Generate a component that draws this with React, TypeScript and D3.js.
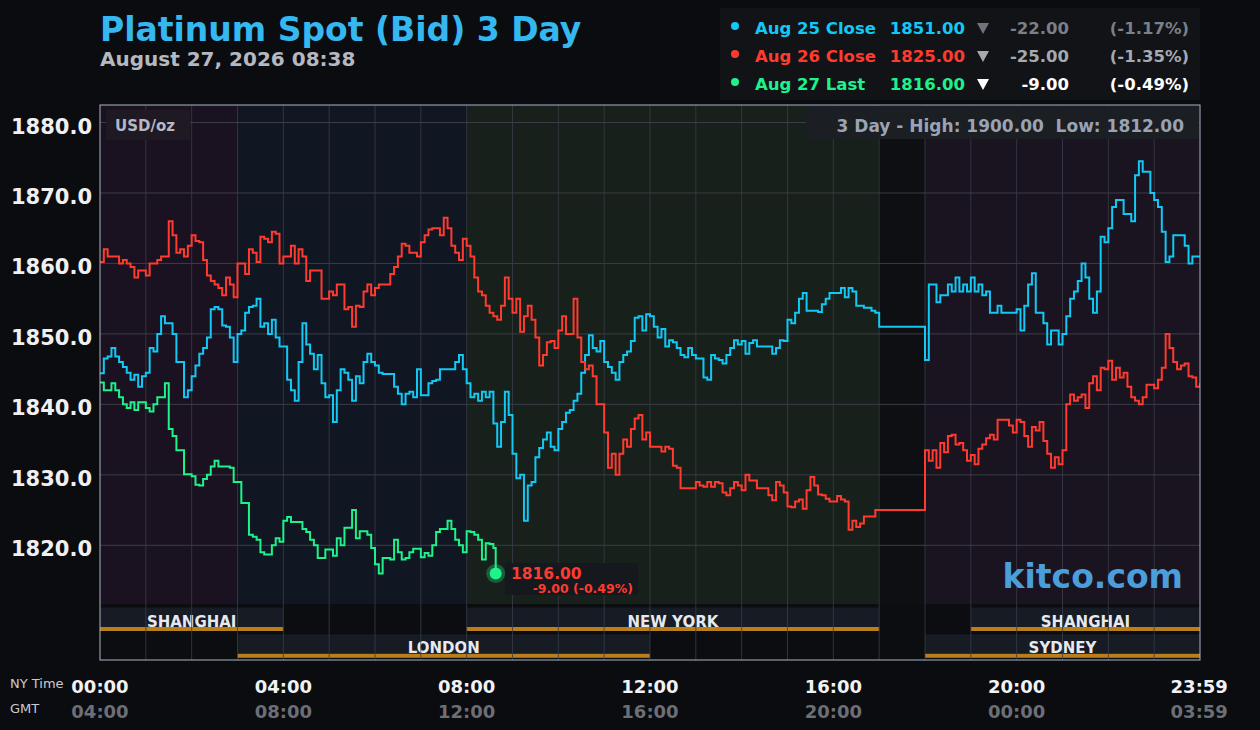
import * as d3 from "d3"

// ---- data (5-minute steps, NY time, starting 00:00) ----
const STEP_MIN = 5

const AUG25_CLOSE = [
  // 00:00 - 08:00
  1844.4, 1846.5, 1846.8, 1848, 1846.8, 1846, 1845.3, 1844.5, 1843.5, 1844.2,
  1842.5, 1844, 1844.5, 1848, 1847.5, 1850, 1852.5, 1851.5, 1851.5, 1850,
  1846, 1846, 1841, 1842, 1844, 1845.5, 1847.2, 1848, 1849.5, 1853.5,
  1853.8, 1853.5, 1851.2, 1851, 1849.5, 1846, 1850, 1850.5, 1853, 1853.8,
  1854, 1855, 1851, 1851.5, 1850, 1852, 1849.5, 1848.2, 1848.2, 1843.5,
  1842, 1840.5, 1846, 1851.5, 1848.5, 1847.2, 1845, 1847, 1843, 1841,
  1841.3, 1837.5, 1842, 1845, 1844.5, 1843.5, 1840.5, 1844, 1843, 1846,
  1847.2, 1846, 1845.5, 1844.5, 1844.3, 1844.3, 1844.3, 1842.5, 1841.5, 1840,
  1841.5, 1841.8, 1841, 1845, 1841.3, 1841.3, 1843, 1843.3, 1843.5, 1845,
  1845, 1845, 1845, 1846, 1847, 1845, 1843,
  // 08:05 - 17:00
  1841, 1841.5, 1840.5, 1841.8, 1841, 1841.8, 1837.3, 1834, 1837.5, 1841.8,
  1838.5, 1833, 1829.5, 1830, 1823.5, 1828.5, 1829, 1832.5, 1833.8, 1835,
  1836, 1834, 1833.5, 1836.5, 1837.5, 1838.8, 1839.2, 1840.5, 1841.5, 1844.5,
  1847, 1849.8, 1848, 1847.5, 1849, 1846, 1845.3, 1844.5, 1843.5, 1846,
  1847, 1847.5, 1849, 1852.3, 1852.5, 1850.5, 1852.8, 1852.5, 1851, 1849.5,
  1850.7, 1848.2, 1849.1, 1848.8, 1848, 1847, 1846.7, 1848, 1847, 1846.5,
  1846.5, 1843.8, 1843.5, 1847, 1846.5, 1846.3, 1845.8, 1847, 1848, 1849.1,
  1848.5, 1849, 1847.2, 1848.7, 1849.1, 1848.2, 1848.2, 1848.2, 1848.2, 1847.2,
  1848, 1849.1, 1849, 1852, 1851.5, 1853, 1855, 1855.8, 1853.3, 1853.3,
  1853.3, 1853.1, 1854.2, 1855, 1855.8, 1855.8, 1855.8, 1856.5, 1855.2, 1856.5,
  1856, 1854, 1854, 1853.7, 1853.7, 1853.3, 1853, 1851,
  // 17:05 - 17:55
  1851, 1851, 1851, 1851, 1851, 1851, 1851, 1851, 1851, 1851, 1851,
  // 18:00 - 24:00
  1846.3, 1857, 1857, 1854.5, 1855.5, 1855.5, 1857, 1856, 1858, 1856,
  1857, 1856, 1858, 1856, 1857, 1855.5, 1856, 1853, 1853, 1854,
  1853, 1853, 1853, 1853, 1853.5, 1850.5, 1854, 1857, 1858.6, 1853,
  1853, 1851.5, 1848.5, 1850.5, 1850.5, 1848.5, 1850, 1852.5, 1855, 1856,
  1857.5, 1860, 1858, 1855, 1853, 1856, 1863.8, 1863, 1865, 1868,
  1869, 1869, 1867, 1867, 1866, 1872.5, 1874.5, 1873, 1873, 1870,
  1869, 1868, 1864.5, 1860.2, 1861, 1864, 1864, 1864, 1862.5, 1860,
  1861, 1861, 1861,
]

const AUG26_CLOSE = [
  // 00:00 - 08:00
  1860.2, 1862, 1861, 1861, 1861, 1860, 1860.5, 1860, 1859.5, 1858,
  1859, 1859, 1858.3, 1860, 1860, 1860.5, 1861, 1861, 1866, 1864,
  1861.5, 1862, 1861, 1862.5, 1864, 1863.2, 1863, 1860.5, 1858.3, 1857.5,
  1857, 1856.5, 1855.5, 1858, 1857, 1855.2, 1860, 1860, 1858.5, 1862,
  1861.5, 1860.2, 1863.8, 1863.5, 1863, 1864.5, 1864.2, 1860, 1861, 1861,
  1862.5, 1860, 1862, 1861, 1857.5, 1859, 1859, 1859, 1855, 1855,
  1856, 1855.5, 1857, 1857, 1853.5, 1853.8, 1851, 1854, 1853.8, 1856,
  1857, 1855.5, 1856.5, 1857, 1857, 1857, 1858.5, 1859.5, 1861, 1862.8,
  1862.5, 1861.5, 1861.5, 1861, 1863, 1864, 1864.8, 1865, 1865, 1864,
  1866.5, 1865, 1862.5, 1861.5, 1860.5, 1863.5, 1862.5,
  // 08:05 - 17:00
  1861, 1858, 1856, 1855.5, 1854, 1853, 1852.5, 1852, 1854, 1858,
  1855, 1853, 1855, 1850.3, 1852.5, 1854, 1852, 1849.5, 1845.5, 1847,
  1848.8, 1849, 1848, 1850.5, 1852.5, 1850, 1850, 1855, 1849.5, 1846,
  1845, 1845.5, 1844, 1840, 1840, 1836, 1831, 1833, 1830, 1833,
  1835, 1834, 1836.5, 1838, 1838.5, 1835, 1836, 1834, 1834, 1834,
  1833.3, 1834, 1833.7, 1831.3, 1831, 1828.1, 1828.1, 1828.1, 1828.1, 1829,
  1828.5, 1828.3, 1829, 1828.3, 1829, 1828.8, 1827.5, 1827.1, 1828.1, 1829,
  1828.5, 1827.8, 1830, 1829.2, 1829.2, 1828.1, 1828.1, 1828.1, 1827.1, 1826.4,
  1829, 1828.5, 1827.5, 1825.5, 1825.4, 1826.2, 1826.5, 1825.2, 1827.8, 1829.7,
  1828.5, 1827.2, 1827.1, 1826.6, 1826.2, 1826.2, 1827, 1826.5, 1826.2, 1822.2,
  1823.5, 1822.6, 1823.1, 1824.1, 1824.1, 1824.1, 1825, 1825,
  // 17:05 - 17:55
  1825, 1825, 1825, 1825, 1825, 1825, 1825, 1825, 1825, 1825, 1825,
  // 18:00 - 24:00
  1833.5, 1832, 1833.5, 1831, 1834.5, 1833.2, 1835.5, 1835.7, 1834.3, 1834.5,
  1833.5, 1832, 1832.8, 1831.5, 1833.7, 1834.3, 1835.2, 1835.7, 1835, 1837.8,
  1837.8, 1837.8, 1837, 1836, 1837.8, 1837.5, 1835.5, 1834, 1836.8, 1836.3,
  1837.5, 1834.8, 1833, 1831, 1832.5, 1831.5, 1833.5, 1840, 1841.4, 1840.5,
  1841, 1841.4, 1839.5, 1843, 1844, 1842, 1845.2, 1845, 1846.2, 1843.5,
  1845.2, 1843.8, 1844.5, 1842.5, 1841, 1840.5, 1840, 1841, 1842.8, 1842.8,
  1842.3, 1843.5, 1845.2, 1850, 1848, 1846, 1845, 1845.5, 1845.8, 1844,
  1843.8, 1842.5, 1843,
]

const AUG27_LAST = [
  1843.1, 1842, 1842, 1843, 1842, 1841, 1840, 1839.5, 1840.3, 1839.2,
  1840.3, 1840.3, 1839.5, 1839, 1840, 1841, 1841, 1843, 1836.5, 1835.5,
  1833.5, 1833.5, 1830.1, 1830.1, 1829.8, 1828.6, 1828.5, 1829.4, 1830, 1831.2,
  1832, 1831.2, 1831.2, 1831.2, 1831, 1829, 1829, 1826, 1826, 1821.5,
  1821.2, 1820.8, 1819, 1818.7, 1818.7, 1820, 1821, 1820.5, 1823.5, 1824,
  1823.3, 1823.3, 1823.3, 1822.3, 1821.9, 1820.8, 1820, 1818.2, 1818.2, 1819.4,
  1819.4, 1818.5, 1821, 1820, 1822.5, 1822.5, 1825, 1821, 1822, 1822,
  1821.5, 1819.6, 1817.3, 1816, 1818.2, 1818.2, 1818, 1820.8, 1819, 1818,
  1818.2, 1819, 1819.5, 1819.5, 1818.3, 1818.9, 1818.5, 1820, 1821.9, 1822.3,
  1822.3, 1823.5, 1822.3, 1820.8, 1820, 1819, 1822,
  1821.9, 1821.5, 1820.8, 1818, 1820.3, 1820.2, 1819.6,
]
const LAST_MINUTE = 8 * 60 + 38
const LAST_PRICE = 1816

const LEGEND_NAMES = ["Aug 25 Close", "Aug 26 Close", "Aug 27 Last"]
const LEGEND_VALUES = ["1851.00", "1825.00", "1816.00"]
const LEGEND_CHANGES = ["-22.00", "-25.00", "-9.00"]
const LEGEND_PCTS = ["(-1.17%)", "(-1.35%)", "(-0.49%)"]

const Y_TICKS = [1820, 1830, 1840, 1850, 1860, 1870, 1880]
const TICK_MINUTES = [0, 240, 480, 720, 960, 1200, 1439]
const NY_LABELS = ["00:00", "04:00", "08:00", "12:00", "16:00", "20:00", "23:59"]
const GMT_LABELS = ["04:00", "08:00", "12:00", "16:00", "20:00", "00:00", "03:59"]

// background zones (hours)
const ZONE_FROM = [0, 3, 8, 17, 18]
const ZONE_TO = [3, 8, 17, 18, 24]

// market sessions (hours)
const SESSION_NAMES = ["SHANGHAI", "NEW YORK", "SHANGHAI", "LONDON", "SYDNEY"]
const SESSION_ROW = [0, 0, 0, 1, 1]
const SESSION_FROM = [0, 8, 19, 3, 18]
const SESSION_TO = [4, 17, 24, 12, 24]

// ---- styles ----
const FONT = "'DejaVu Sans', Verdana, sans-serif"
const BG = "#0b0c10"
const ZONE_FILL = ["#1a1220", "#111623", "#17201a", "#0e0f13", "#1a1320"]
const SERIES_COLOR = ["#12c8f4", "#ff3b2f", "#1ef28a"]
const GRID = "#3a3d47"
const ORANGE = "#b97f1a"

const W = 1260
const H = 730
const L = 100
const R = 1200
const TOP = 105
const PRICE_BOTTOM = 604
const BOTTOM = 660

export default function App() {
  const x = d3.scaleLinear().domain([0, 1440]).range([L, R])
  const y = d3.scaleLinear().domain([1820, 1880]).range([545.3, 122.5])

  const line = d3
    .line<[number, number]>()
    .x((d) => x(d[0]))
    .y((d) => y(d[1]))
    .curve(d3.curveStepAfter)

  const toPts = (vals: number[]): [number, number][] => vals.map((v, i) => [i * STEP_MIN, v])
  const greenPts = toPts(AUG27_LAST)
  greenPts.push([LAST_MINUTE, LAST_PRICE])

  const series = [toPts(AUG25_CLOSE), toPts(AUG26_CLOSE), greenPts]
  const hours = d3.range(1, 24)

  const legendTri = ["#6e737c", "#a5a9b0", "#ffffff"]
  const legendChg = ["#7a7f88", "#a5a9b0", "#ffffff"]

  const lx = x(LAST_MINUTE)
  const ly = y(LAST_PRICE)

  return (
    <svg
      width={W}
      height={H}
      viewBox={`0 0 ${W} ${H}`}
      style={{ position: "absolute", left: 0, top: 0, fontFamily: FONT }}
    >
      <rect width={W} height={H} fill={BG} />

      {/* title */}
      <text x={100} y={41} fill="#35b8f0" fontSize={33} fontWeight="bold">
        Platinum Spot (Bid) 3 Day
      </text>
      <text x={100} y={66} fill="#b4b8c0" fontSize={20} fontWeight="bold">
        August 27, 2026 08:38
      </text>

      {/* legend */}
      <rect x={720} y={8} width={480} height={92} fill="#111317" />
      {LEGEND_NAMES.map((name, i) => {
        const cy = 28 + i * 28
        const c = SERIES_COLOR[i]
        return (
          <g key={name} fontSize={16.5} fontWeight="bold">
            <circle cx={735} cy={cy - 2} r={4} fill={c} />
            <text x={755} y={cy + 6} fill={c}>{name}</text>
            <text x={965} y={cy + 6} fill={c} textAnchor="end">{LEGEND_VALUES[i]}</text>
            <path d={`M${977},${cy - 5} L${989},${cy - 5} L${983},${cy + 6} Z`} fill={legendTri[i]} />
            <text x={1069} y={cy + 6} fill={legendChg[i]} textAnchor="end">{LEGEND_CHANGES[i]}</text>
            <text x={1189} y={cy + 6} fill={legendChg[i]} textAnchor="end">{LEGEND_PCTS[i]}</text>
          </g>
        )
      })}

      {/* zones */}
      {ZONE_FROM.map((f, i) => (
        <rect
          key={`z${i}`}
          x={x(f * 60)}
          y={TOP}
          width={x(ZONE_TO[i] * 60) - x(f * 60)}
          height={PRICE_BOTTOM - TOP}
          fill={ZONE_FILL[i]}
        />
      ))}
      <rect x={L} y={PRICE_BOTTOM} width={R - L} height={BOTTOM - PRICE_BOTTOM} fill="#0c0d11" />

      {/* grid */}
      {Y_TICKS.map((v) => (
        <line key={`gy${v}`} x1={L} x2={R} y1={y(v)} y2={y(v)} stroke={GRID} strokeWidth={1} />
      ))}

      {/* sessions */}
      {SESSION_NAMES.map((name, i) => {
        const top = SESSION_ROW[i] === 0 ? 607.5 : 634.3
        const x0 = x(SESSION_FROM[i] * 60)
        const x1 = x(SESSION_TO[i] * 60)
        return (
          <g key={`s${i}`}>
            <rect x={x0} y={top} width={x1 - x0} height={23.5} fill="#161b24" />
            <rect x={x0} y={top + 19.5} width={x1 - x0} height={4} fill={ORANGE} />
            <text
              x={(x0 + x1) / 2}
              y={top + 19}
              textAnchor="middle"
              fill="#e6e9ef"
              fontSize={15}
              fontWeight="bold"
            >
              {name}
            </text>
          </g>
        )
      })}

      {hours.map((h) => (
        <line
          key={`gx${h}`}
          x1={x(h * 60)}
          x2={x(h * 60)}
          y1={TOP}
          y2={BOTTOM}
          stroke={GRID}
          strokeOpacity={0.8}
          strokeWidth={1}
        />
      ))}

      {/* USD/oz and high/low */}
      <rect x={106} y={110} width={84} height={30} fill="#1f1924" />
      <text x={115} y={131} fill="#b4b8c2" fontSize={15} fontWeight="bold">USD/oz</text>
      <rect x={806} y={106} width={393} height={33} fill="#1b1e23" />
      <text
        x={1184}
        y={132}
        textAnchor="end"
        fill="#9aa3b3"
        fontSize={17}
        fontWeight="bold"
        style={{ whiteSpace: "pre" }}
      >
        {"3 Day - High: 1900.00  Low: 1812.00"}
      </text>

      {/* kitco */}
      <text x={1183} y={588} textAnchor="end" fill="#4a9edc" fontSize={33} fontWeight="bold">
        kitco.com
      </text>

      {/* lines */}
      <defs>
        <clipPath id="price-clip">
          <rect x={L} y={TOP} width={R - L} height={PRICE_BOTTOM - TOP} />
        </clipPath>
      </defs>
      <g clipPath="url(#price-clip)">
        {series.map((pts, i) => (
          <path
            key={`l${i}`}
            d={line(pts) ?? ""}
            fill="none"
            stroke={SERIES_COLOR[i]}
            strokeWidth={2}
            strokeLinejoin="miter"
          />
        ))}
      </g>

      {/* last price marker */}
      <circle cx={lx} cy={ly} r={9.5} fill={SERIES_COLOR[2]} fillOpacity={0.3} />
      <circle cx={lx} cy={ly} r={6} fill={SERIES_COLOR[2]} />
      <rect x={505} y={563} width={133} height={32} fill="#15181c" />
      <text x={511} y={579} fill="#ff3b2f" fontSize={15.5} fontWeight="bold">1816.00</text>
      <text x={633} y={593} textAnchor="end" fill="#ff3b2f" fontSize={12.5} fontWeight="bold">
        -9.00 (-0.49%)
      </text>

      {/* frame */}
      <rect x={L} y={TOP} width={R - L} height={BOTTOM - TOP} fill="none" stroke="#a9b5c8" strokeWidth={1} />

      {/* y axis */}
      {Y_TICKS.map((v) => (
        <text
          key={`ty${v}`}
          x={92}
          y={y(v) + 11}
          textAnchor="end"
          fill="#f0f0f2"
          fontSize={21}
          fontWeight="bold"
        >
          {v.toFixed(1)}
        </text>
      ))}

      {/* x axis */}
      <text x={10} y={688} fill="#c8ccd4" fontSize={13}>NY Time</text>
      <text x={10} y={713} fill="#c8ccd4" fontSize={13}>GMT</text>
      {TICK_MINUTES.map((m, i) => (
        <g key={`tx${m}`} fontSize={18} fontWeight="bold" textAnchor="middle">
          <text x={x(m)} y={693} fill="#f2f2f4">{NY_LABELS[i]}</text>
          <text x={x(m)} y={718} fill="#6c6f75">{GMT_LABELS[i]}</text>
        </g>
      ))}
    </svg>
  )
}
